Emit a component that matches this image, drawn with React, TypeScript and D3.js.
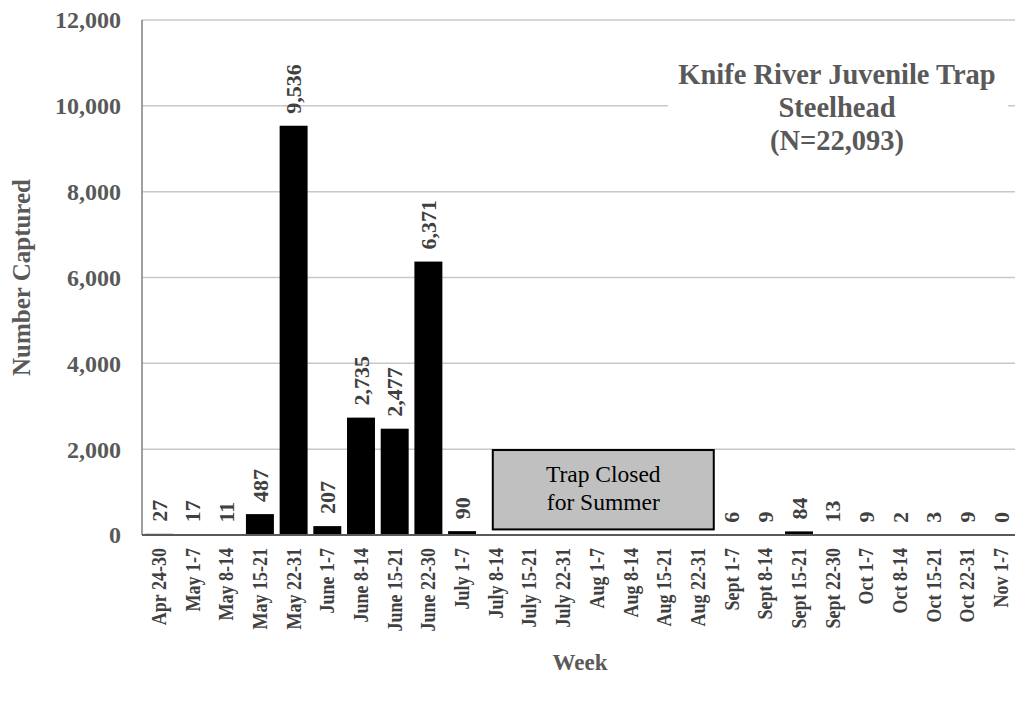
import React from "react";
import * as d3 from "d3";

const categories = [
  "Apr 24-30", "May 1-7", "May 8-14", "May 15-21", "May 22-31",
  "June 1-7", "June 8-14", "June 15-21", "June 22-30",
  "July 1-7", "July 8-14", "July 15-21", "July 22-31",
  "Aug 1-7", "Aug 8-14", "Aug 15-21", "Aug 22-31",
  "Sept 1-7", "Sept 8-14", "Sept 15-21", "Sept 22-30",
  "Oct 1-7", "Oct 8-14", "Oct 15-21", "Oct 22-31", "Nov 1-7",
];
const counts: (number | null)[] = [
  27, 17, 11, 487, 9536, 207, 2735, 2477, 6371, 90,
  null, null, null, null, null, null, null,
  6, 9, 84, 13, 9, 2, 3, 9, 0,
];
const yTicks = [0, 2000, 4000, 6000, 8000, 10000, 12000];
const titleLines = ["Knife River Juvenile Trap", "Steelhead", "(N=22,093)"];
const closedLines = ["Trap Closed", "for Summer"];
const closedFrom = "July 8-14";
const closedTo = "Aug 22-31";

const W = 1015, H = 704;
const left = 142, right = 1018, top = 20, bottom = 535;
const FONT = "'Liberation Serif', 'Times New Roman', serif";
const GRAY = "#595959";

export default function App() {
  const x = d3.scaleBand<string>().domain(categories).range([left, right]).paddingInner(0.17).paddingOuter(0.085);
  const y = d3.scaleLinear().domain([0, 12000]).range([bottom, top]);
  const fmt = d3.format(",");
  const step = x.step();
  const bx0 = (x(closedFrom) as number) + 11;
  const bx1 = (x(closedTo) as number) + x.bandwidth() + step * 0.085 - 1;
  const by0 = y(1980), by1 = y(130);
  return (
    <svg width={W} height={H} style={{ position: "absolute", left: 0, top: 0, background: "#fff" }} fontFamily={FONT}>
      {yTicks.map((t) => (
        <g key={t}>
          {t > 0 && <line x1={left} x2={right} y1={y(t)} y2={y(t)} stroke="#c8c8c8" strokeWidth={1.5} />}
          <text x={121} y={y(t)} dy="0.35em" textAnchor="end" fontSize={24} fontWeight="bold" fill={GRAY}>{fmt(t)}</text>
        </g>
      ))}
      <rect x={668} y={56} width={340} height={104} fill="#fff" />
      {titleLines.map((l, i) => (
        <text key={l} x={837} y={84 + i * 33} textAnchor="middle" fontSize={28.5} fontWeight="bold" fill={GRAY}>{l}</text>
      ))}
      <line x1={left} x2={left} y1={top} y2={bottom} stroke="#7f7f7f" strokeWidth={1.5} />
      {categories.map((c, i) => {
        const v = counts[i];
        const cx = (x(c) as number) + x.bandwidth() / 2;
        return (
          <g key={c}>
            {v !== null && (
              <>
                <rect x={x(c)} y={y(v)} width={x.bandwidth()} height={bottom - y(v)} fill="#000" />
                <text transform={`translate(${cx},${y(v) - 12}) rotate(-90)`} dy="0.35em" fontSize={22} fontWeight="bold" fill="#404040">{fmt(v)}</text>
              </>
            )}
            <text transform={`translate(${cx},${bottom + 13}) rotate(-90) scale(0.9,1)`} dy="0.35em" textAnchor="end" fontSize={20} fontWeight="bold" fill="#404040">{c}</text>
          </g>
        );
      })}
      <line x1={left} x2={right} y1={bottom} y2={bottom} stroke="#595959" strokeWidth={2} />
      <rect x={bx0} y={by0} width={bx1 - bx0} height={by1 - by0} fill="#c0c0c0" stroke="#000" strokeWidth={2} />
      {closedLines.map((l, i) => (
        <text key={l} x={(bx0 + bx1) / 2} y={482 + i * 28} textAnchor="middle" fontSize={23.5} fill="#000">{l}</text>
      ))}
      <text transform={`translate(30,${(top + bottom) / 2}) rotate(-90)`} textAnchor="middle" fontSize={25} fontWeight="bold" fill={GRAY}>Number Captured</text>
      <text x={580} y={670} textAnchor="middle" fontSize={23} fontWeight="bold" fill={GRAY}>Week</text>
    </svg>
  );
}
